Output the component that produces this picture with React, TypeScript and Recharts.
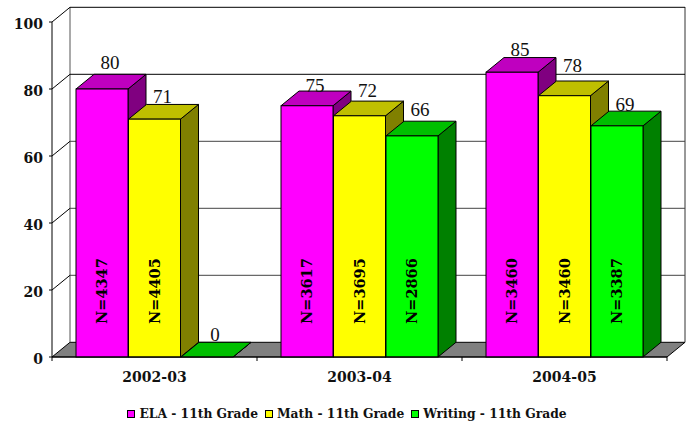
import { BarChart, Bar, XAxis, YAxis, Legend, LabelList, CartesianGrid } from "recharts";

const categories = ["2002-03", "2003-04", "2004-05"];
const elaValues = [80, 75, 85];
const mathValues = [71, 72, 78];
const writingValues = [0, 66, 69];
const elaCounts = [4347, 3617, 3460];
const mathCounts = [4405, 3695, 3460];
const writingCounts = [null, 2866, 3387];
const yTicks = [0, 20, 40, 60, 80, 100];

// how far above the bar front each value label sits in the original
const elaRise = [26, 20, 22];
const mathRise = [22, 25, 30];
const writingRise = [22, 26, 21];

const data = categories.map((name, i) => ({
  name,
  ela: elaValues[i],
  math: mathValues[i],
  writing: writingValues[i],
  elaN: elaCounts[i],
  mathN: mathCounts[i],
  writingN: writingCounts[i],
}));

const DX = 18;
const DY = 14.7;
const BOLD = "'DejaVu Serif', serif";
const PLAIN = "'Liberation Serif', serif";

function box(front: string, top: string, side: string) {
  return (props: any) => {
    const { x, y, width, height } = props;
    const r = x + width;
    const b = y + height;
    return (
      <g stroke="#000" strokeWidth={1}>
        <path
          d={`M${r},${y} L${r + DX},${y - DY} L${r + DX},${b - DY} L${r},${b} Z`}
          fill={side}
        />
        <path
          d={`M${x},${y} L${x + DX},${y - DY} L${r + DX},${y - DY} L${r},${y} Z`}
          fill={top}
        />
        <rect x={x} y={y} width={width} height={height} fill={front} />
      </g>
    );
  };
}

function valueLabel(rise: number[]) {
  return (props: any) => {
    const { x, y, width, value, index } = props;
    return (
      <text
        x={x + width / 2 + 8}
        y={y - rise[index] + 6}
        textAnchor="middle"
        fontFamily={PLAIN}
        fontSize={19}
        fill="#111"
      >
        {value}
      </text>
    );
  };
}

function countLabel(props: any) {
  const { x, width, value } = props;
  if (value == null) return null;
  const cx = x + width / 2 + 5;
  return (
    <text
      transform={`translate(${cx},324) rotate(-90)`}
      fontFamily={BOLD}
      fontWeight="bold"
      fontSize={14.5}
      fill="#000"
    >
      {`N=${value}`}
    </text>
  );
}

// each grid line: diagonal on the side wall + line on the back wall.
// the zero line also draws the floor and the wall edges
function wallLine(props: any) {
  const { x1, x2, y1, index } = props;
  const backY = y1 - DY;
  if (y1 > 300) {
    return (
      <g key={index} fill="none">
        <path
          d={`M${x1},${y1} L${x1 + DX},${backY} L${x2 + DX},${backY} L${x2},${y1} Z`}
          fill="#808080"
          stroke="#000"
        />
        <path d={`M${x1 + DX},${backY} V7`} stroke="#555" />
        <path d={`M${x2 + DX},${backY} V7`} stroke="#333" />
      </g>
    );
  }
  return (
    <g key={index} fill="none">
      <path d={`M${x1},${y1} L${x1 + DX},${backY}`} stroke="#000" />
      <path d={`M${x1 + DX},${backY} L${x2 + DX},${backY}`} stroke={y1 < 100 ? "#000" : "#444"} />
    </g>
  );
}

function CategoryTick(props: any) {
  const { x, y, payload, index } = props;
  const half = payload.offset;
  return (
    <g>
      <path d={`M${x - half},${y} v4`} stroke="#000" />
      {index === categories.length - 1 && <path d={`M${x + half},${y} v4`} stroke="#000" />}
      <text
        x={x}
        y={y + 25}
        textAnchor="middle"
        fontFamily={BOLD}
        fontWeight="bold"
        fontSize={14}
        fill="#111"
      >
        {payload.value}
      </text>
    </g>
  );
}

function LegendRow(props: any) {
  return (
    <div
      style={{
        display: "flex",
        justifyContent: "center",
        paddingTop: 9,
        paddingLeft: 34,
        fontFamily: BOLD,
        fontWeight: "bold",
        fontSize: 12.3,
        color: "#111",
        whiteSpace: "nowrap",
      }}
    >
      {props.payload.map((entry: any) => (
        <span key={entry.value} style={{ display: "flex", alignItems: "center", marginRight: 7 }}>
          <span
            style={{
              width: 6,
              height: 6,
              background: entry.color,
              border: "1px solid #000",
              marginRight: 4,
            }}
          />
          {entry.value}
        </span>
      ))}
    </div>
  );
}

export default function App() {
  return (
    <div style={{ position: "absolute", left: 0, top: 0, background: "#fff" }}>
      <BarChart
        width={695}
        height={425}
        data={data}
        margin={{ top: 22, right: 28, bottom: 0, left: 0 }}
        barGap={0.5}
        barCategoryGap={24}
      >
        <CartesianGrid vertical={false} horizontal={wallLine} />
        <XAxis
          dataKey="name"
          axisLine={{ stroke: "#000" }}
          tickLine={false}
          tickSize={0}
          tickMargin={0}
          interval={0}
          height={40}
          tick={<CategoryTick />}
        />
        <YAxis
          width={52}
          domain={[0, 100]}
          ticks={yTicks}
          axisLine={{ stroke: "#000" }}
          tickLine={{ stroke: "#000" }}
          tickSize={3}
          tickMargin={6}
          tick={{ fontFamily: BOLD, fontWeight: "bold", fontSize: 14, fill: "#111", dy: 2 }}
        />
        <Legend verticalAlign="bottom" height={28} content={<LegendRow />} />
        <Bar dataKey="ela" name="ELA - 11th Grade" fill="#ff00ff" shape={box("#ff00ff", "#bf00bf", "#800080")} isAnimationActive={false}>
          <LabelList dataKey="ela" content={valueLabel(elaRise)} />
          <LabelList dataKey="elaN" content={countLabel} />
        </Bar>
        <Bar dataKey="math" name="Math - 11th Grade" fill="#ffff00" shape={box("#ffff00", "#bfbf00", "#808000")} isAnimationActive={false}>
          <LabelList dataKey="math" content={valueLabel(mathRise)} />
          <LabelList dataKey="mathN" content={countLabel} />
        </Bar>
        <Bar dataKey="writing" name="Writing - 11th Grade" fill="#00ff00" shape={box("#00ff00", "#00bf00", "#008000")} isAnimationActive={false}>
          <LabelList dataKey="writing" content={valueLabel(writingRise)} />
          <LabelList dataKey="writingN" content={countLabel} />
        </Bar>
      </BarChart>
    </div>
  );
}
